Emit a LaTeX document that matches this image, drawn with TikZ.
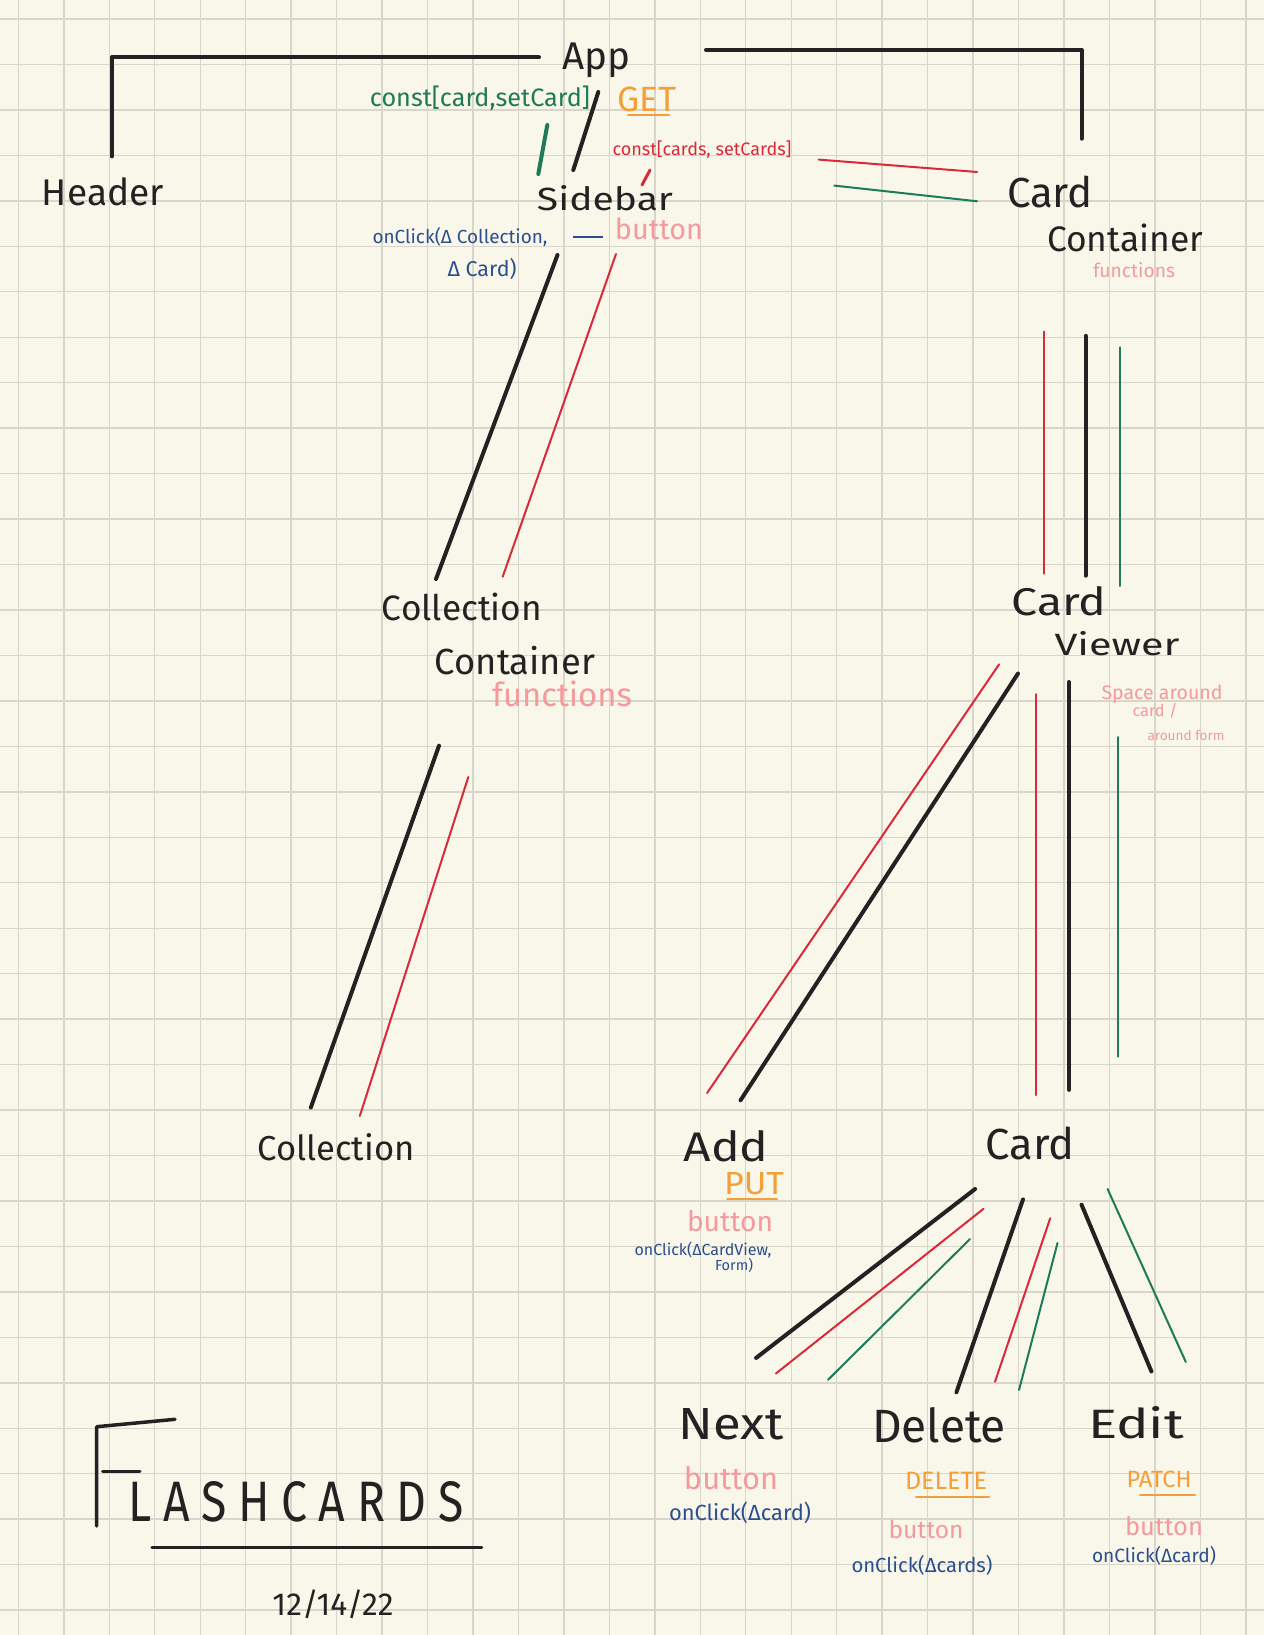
\documentclass[tikz,border=0pt]{standalone}
\usepackage{fontspec}
\setmainfont{Fira Sans}
\usepackage{graphicx}
\definecolor{bg}{HTML}{F9F7EA}
\definecolor{gridc}{HTML}{D8D6CA}
\definecolor{ink}{HTML}{222222}
\definecolor{grn}{HTML}{1E7A58}
\definecolor{rd}{HTML}{D9293B}
\definecolor{org}{HTML}{F4A03A}
\definecolor{pnk}{HTML}{F49A9C}
\definecolor{blu}{HTML}{2B4E8E}
\newcommand{\fitw}[2]{\resizebox{#1pt}{!}{#2}}
\newcommand{\fitwh}[3]{\resizebox{#1pt}{#2pt}{#3}}
\begin{document}
\begin{tikzpicture}[x=1pt,y=-1pt,
  lbl/.style={inner sep=0pt, text=ink},
  note/.style={inner sep=0pt},
  blk/.style={draw=ink, line width=4pt, line cap=round, line join=round},
  thinred/.style={draw=rd, line width=2pt, line cap=round},
  thingrn/.style={draw=grn, line width=2pt, line cap=round},
  uline/.style={draw=org, line width=2pt, line cap=round}]
\fill[bg] (0,0) rectangle (1264,1635);
\useasboundingbox (0,0) rectangle (1264,1635);
\foreach \i in {0,...,27} \draw[gridc, line width=1.4pt] ({18.4+45.46*\i},0) -- ({18.4+45.46*\i},1635);
\foreach \i in {0,...,35} \draw[gridc, line width=1.4pt] (0,{19+45.46*\i}) -- (1264,{19+45.46*\i});

% main labels
\node[lbl] (app) at (596,60) {\fitw{68}{App}};
\node[lbl] (header) at (103,192) {\fitw{122}{Header}};
\node[lbl] (sidebar) at (605,198) {\fitwh{136}{25}{Sidebar}};
\node[lbl] (cc1) at (1050,192) {\fitw{86}{Card}};
\node[lbl] (cc2) at (1125,238) {\fitw{156}{Container}};
\node[lbl] (col1) at (462,607) {\fitw{160}{Collection}};
\node[lbl] (col2) at (515,661) {\fitw{160}{Container}};
\node[lbl] (cv1) at (1059,601) {\fitwh{95}{29}{Card}};
\node[lbl] (cv2) at (1117,644) {\fitwh{125}{24}{Viewer}};
\node[lbl] (collection) at (336,1147) {\fitw{157}{Collection}};
\node[lbl] (add) at (726,1146) {\fitwh{85}{31}{Add}};
\node[lbl] (card) at (1030,1143) {\fitw{89}{Card}};
\node[lbl] (next) at (731,1424) {\fitwh{105}{31}{Next}};
\node[lbl] (delete) at (939,1425) {\fitwh{134}{35}{Delete}};
\node[lbl] (edit) at (1136,1423) {\fitwh{96}{32}{Edit}};

% notes
\node[note, text=grn] (n1) at (480,98) {\fitw{220}{const[card,setCard]}};
\node[note, text=org] (get) at (647,99) {\fitw{59}{GET}};
\draw[uline] (628,115) -- (669,115);
\node[note, text=rd] (n2) at (702,150) {\fitw{179}{const[cards, setCards]}};
\node[note, text=blu] (n3) at (460,237) {\fitw{175}{onClick(Δ Collection,}};
\node[note, text=blu] (n4) at (482,269) {\fitw{69}{Δ Card)}};
\node[note, text=pnk] (n5) at (659,229) {\fitw{88}{button}};
\node[note, text=pnk] (n6) at (1134,270) {\fitw{82}{functions}};
\node[note, text=pnk] (n7) at (562,694) {\fitw{140}{functions}};
\node[note, text=pnk] (n8) at (1162,694) {\fitw{121}{Space around}};
\node[note, text=pnk] (n9) at (1155,711) {\fitw{45}{card /}};
\node[note, text=pnk] (n10) at (1186,735) {\fitw{77}{around form}};
\node[note, text=org] (put) at (754,1184) {\fitwh{60}{22}{PUT}};
\draw[uline] (727,1199) -- (777,1199);
\node[note, text=pnk] (n11) at (730,1221) {\fitw{86}{button}};
\node[note, text=blu] (n12) at (703,1250) {\fitw{137}{onClick(ΔCardView,}};
\node[note, text=blu] (n13) at (734,1265) {\fitw{38}{Form)}};
\node[note, text=pnk] (n14) at (731,1478) {\fitw{94}{button}};
\node[note, text=blu] (n15) at (740,1513) {\fitw{142}{onClick(Δcard)}};
\node[note, text=org] (del) at (946,1481) {\fitw{82}{DELETE}};
\draw[uline] (916,1497) -- (989,1497);
\node[note, text=pnk] (n16) at (926,1529) {\fitw{75}{button}};
\node[note, text=blu] (n17) at (922,1565) {\fitw{141}{onClick(Δcards)}};
\node[note, text=org] (patch) at (1159,1479) {\fitw{65}{PATCH}};
\draw[uline] (1140,1495) -- (1195,1495);
\node[note, text=pnk] (n18) at (1164,1526) {\fitw{78}{button}};
\node[note, text=blu] (n19) at (1154,1556) {\fitw{124}{onClick(Δcard)}};
\coordinate (bdA) at (573,237); \coordinate (bdB) at (603,237);
\draw[draw=blu, line width=2pt] (bdA) -- (bdB);

% title
\node[lbl] (title) at (296,1502) {\resizebox{335pt}{40pt}{\addfontfeature{LetterSpace=25}LASHCARDS}};
\node[lbl] (date) at (333,1604) {\fitw{121}{12/14/22}};
\coordinate (fA) at (175,1419.3); \coordinate (fB) at (96.7,1426.7); \coordinate (fC) at (96.7,1526);
\draw[blk, line width=3.5pt] (fA) -- (fB) -- (fC);
\coordinate (fD) at (102.7,1471.7); \coordinate (fE) at (140,1471.7);
\draw[blk, line width=3pt] (fD) -- (fE);
\coordinate (uA) at (152,1547.7); \coordinate (uB) at (481.7,1547.7);
\draw[blk, line width=3.5pt] (uA) -- (uB);

% App brackets
\coordinate (hA) at (111.6,156.4); \coordinate (hB) at (111.6,57.4); \coordinate (hC) at (539,57.4);
\draw[blk] (hA) -- (hB) -- (hC);
\coordinate (rA) at (706,50); \coordinate (rB) at (1081.5,50); \coordinate (rC) at (1081.5,138.7);
\draw[blk] (rA) -- (rB) -- (rC);

% App -> Sidebar
\coordinate (gA) at (547.3,125); \coordinate (gB) at (538.3,174);
\draw[draw=grn, line width=4pt, line cap=round] (gA) -- (gB);
\coordinate (bA) at (598.3,92); \coordinate (bB) at (573.3,170);
\draw[blk] (bA) -- (bB);
\coordinate (rsA) at (650,170); \coordinate (rsB) at (642,185);
\draw[draw=rd, line width=3pt, line cap=round] (rsA) -- (rsB);

% const -> Card Container
\coordinate (crA) at (818.7,159.6); \coordinate (crB) at (977.2,172);
\draw[thinred] (crA) -- (crB);
\coordinate (cgA) at (834.3,185.6); \coordinate (cgB) at (977.2,201.3);
\draw[thingrn] (cgA) -- (cgB);

% Sidebar -> Collection Container
\coordinate (s1) at (557.5,255); \coordinate (s2) at (436,579);
\draw[blk] (s1) -- (s2);
\coordinate (s3) at (616,254); \coordinate (s4) at (502.7,576.7);
\draw[thinred] (s3) -- (s4);

% Card Container -> Card Viewer
\coordinate (v1) at (1044,331.6); \coordinate (v2) at (1044,573.6);
\draw[thinred] (v1) -- (v2);
\coordinate (v3) at (1085.6,335.8); \coordinate (v4) at (1085.6,575.7);
\draw[blk] (v3) -- (v4);
\coordinate (v5) at (1120,347.3); \coordinate (v6) at (1120,586);
\draw[thingrn] (v5) -- (v6);

% Collection Container -> Collection
\coordinate (c1) at (439,745.7); \coordinate (c2) at (310.8,1107.6);
\draw[blk] (c1) -- (c2);
\coordinate (c3) at (468.3,777); \coordinate (c4) at (359.8,1116);
\draw[thinred] (c3) -- (c4);

% Card Viewer -> Add
\coordinate (a1) at (999.1,664.3); \coordinate (a2) at (707.1,1093);
\draw[thinred] (a1) -- (a2);
\coordinate (a3) at (1018,673.5); \coordinate (a4) at (740.5,1100.3);
\draw[blk] (a3) -- (a4);

% Card Viewer -> Card
\coordinate (k1) at (1036,694); \coordinate (k2) at (1036,1095);
\draw[thinred] (k1) -- (k2);
\coordinate (k3) at (1069,682); \coordinate (k4) at (1069,1089.8);
\draw[blk] (k3) -- (k4);
\coordinate (k5) at (1118.3,737); \coordinate (k6) at (1118.3,1056.5);
\draw[thingrn] (k5) -- (k6);

% Card -> Next
\coordinate (x1) at (975.1,1189); \coordinate (x2) at (756.1,1357.9);
\draw[blk] (x1) -- (x2);
\coordinate (x3) at (983.5,1208.8); \coordinate (x4) at (775.9,1373.5);
\draw[thinred] (x3) -- (x4);
\coordinate (x5) at (970,1239); \coordinate (x6) at (828,1379.8);
\draw[thingrn] (x5) -- (x6);

% Card -> Delete
\coordinate (d1) at (1023,1199.4); \coordinate (d2) at (956.4,1392.3);
\draw[blk] (d1) -- (d2);
\coordinate (d3) at (1050.2,1218.2); \coordinate (d4) at (995,1381.8);
\draw[thinred] (d3) -- (d4);
\coordinate (d5) at (1057.5,1243); \coordinate (d6) at (1019,1390);
\draw[thingrn] (d5) -- (d6);

% Card -> Edit
\coordinate (e1) at (1081.5,1204.6); \coordinate (e2) at (1151.4,1371.4);
\draw[blk] (e1) -- (e2);
\coordinate (e3) at (1107.6,1189); \coordinate (e4) at (1185.8,1362);
\draw[thingrn] (e3) -- (e4);
\end{tikzpicture}
\end{document}
